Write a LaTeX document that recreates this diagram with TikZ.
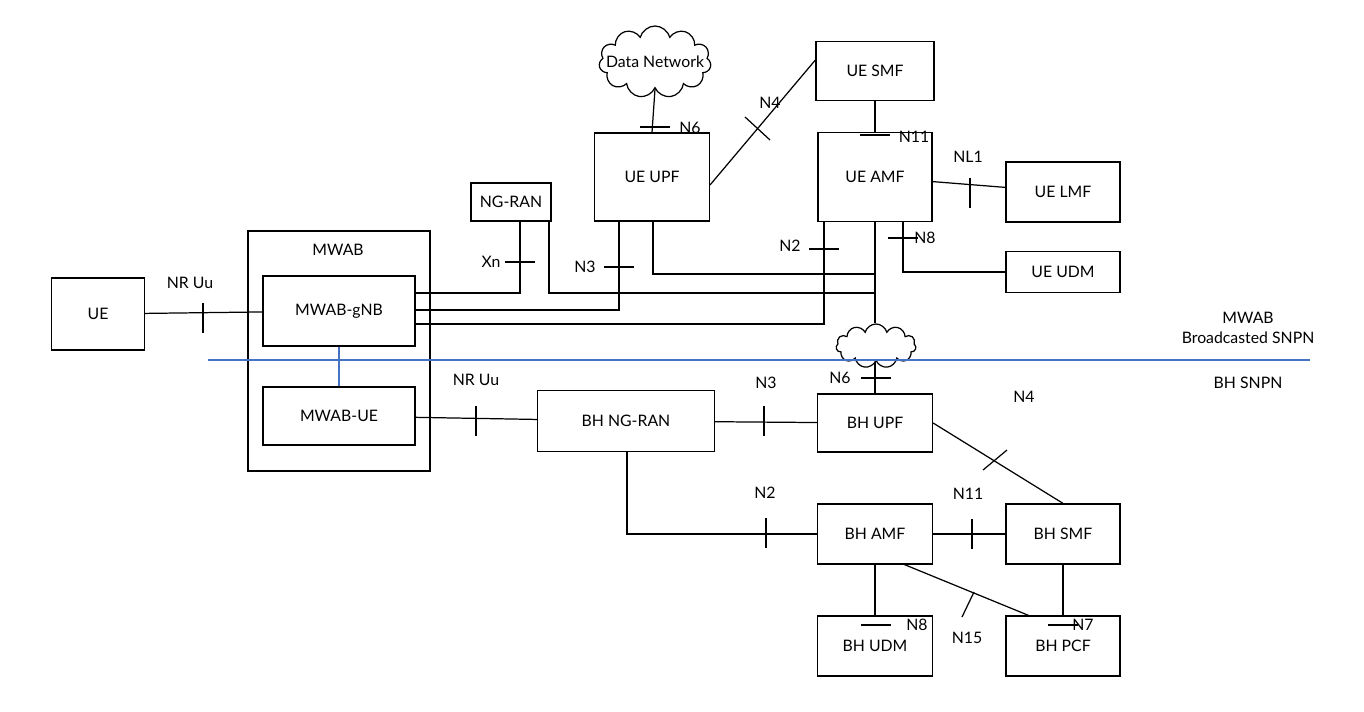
\documentclass[tikz,border=0pt]{standalone}
\usepackage{fontspec}
\setmainfont{Lato}
\usetikzlibrary{shapes.symbols, positioning}
\definecolor{SNPNBlue}{HTML}{4472C4}

\begin{document}
\begin{tikzpicture}[x=0.02cm, y=-0.02cm, font=\fontsize{9}{11}\selectfont, line width=0.7pt,
    nf/.style={rectangle, draw, inner sep=0pt, align=center},
    cl/.style={cloud, draw, cloud puffs=11, inner sep=0pt},
    tk/.style={line width=0.7pt}]
        \useasboundingbox (0,0) rectangle (1364,712);

        % boxes
        \node[nf, minimum width=93*0.02cm, minimum height=72*0.02cm] (UE) at (98,314) {UE};
        \node[nf, minimum width=182*0.02cm, minimum height=240*0.02cm] (MWAB) at (339,351) {};
        \node at (338,250) {MWAB};
        \node[nf, minimum width=152*0.02cm, minimum height=70*0.02cm] (gNB) at (339,311) {MWAB-gNB};
        \node[nf, minimum width=152*0.02cm, minimum height=58*0.02cm] (MUE) at (339,416) {MWAB-UE};
        \node[nf, minimum width=80*0.02cm, minimum height=38*0.02cm] (NGRAN) at (511,202) {NG-RAN};
        \node[nf, minimum width=115*0.02cm, minimum height=88*0.02cm] (UPF) at (652,177) {UE UPF};
        \node[cl, aspect=1.55, minimum width=112*0.02cm, minimum height=72*0.02cm] (DN) at (655,62) {};
        \node at (DN.center) {Data Network};
        \node[nf, minimum width=118*0.02cm, minimum height=59*0.02cm] (SMF) at (875,71) {UE SMF};
        \node[nf, minimum width=114*0.02cm, minimum height=89*0.02cm] (AMF) at (875,177) {UE AMF};
        \node[nf, minimum width=114*0.02cm, minimum height=60*0.02cm] (LMF) at (1063,192) {UE LMF};
        \node[nf, minimum width=114*0.02cm, minimum height=41*0.02cm] (UDM) at (1063,272) {UE UDM};
        \node[cl, aspect=1.8, minimum width=80*0.02cm, minimum height=44*0.02cm] (BB) at (876,346) {};
        \node[nf, minimum width=177*0.02cm, minimum height=61*0.02cm] (BHRAN) at (626,421) {BH NG-RAN};
        \node[nf, minimum width=115*0.02cm, minimum height=58*0.02cm] (BHUPF) at (875,423) {BH UPF};
        \node[nf, minimum width=115*0.02cm, minimum height=60*0.02cm] (BHAMF) at (875,534) {BH AMF};
        \node[nf, minimum width=114*0.02cm, minimum height=60*0.02cm] (BHSMF) at (1063,534) {BH SMF};
        \node[nf, minimum width=115*0.02cm, minimum height=60*0.02cm] (BHUDM) at (875,646) {BH UDM};
        \node[nf, minimum width=114*0.02cm, minimum height=60*0.02cm] (BHPCF) at (1063,646) {BH PCF};

        % domain line
        \coordinate (L) at (208,360);
        \coordinate (R) at (1310,360);
        \draw[SNPNBlue, line width=1pt] (L) -- (R);
        \draw[SNPNBlue, line width=1pt] (gNB) -- (MUE);
        \node[align=center] at (1248,328) {MWAB\\Broadcasted SNPN};
        \node at (1248,383) {BH SNPN};

        % UE side connectors
        \draw (UE) -- (gNB);
        \draw (gNB.east |- 0,293) -| (520,221);
        \draw (549,221) |- (875,293);
        \draw (gNB.east |- 0,310) -| (619,221);
        \draw (653,221) |- (875,274);
        \draw (gNB.east |- 0,324) -| (824,222);
        \draw (AMF.south) -- (AMF.south |- BB.north);
        \draw (903,222) |- (UDM.west);
        \draw (DN.south) -- (UPF.north);
        \draw (710,185) -- (SMF.south west |- 0,60);
        \draw (SMF) -- (AMF);
        \draw (AMF) -- (LMF);

        % BH side connectors
        \draw (MUE) -- (BHRAN);
        \draw (BHRAN) -- (BHUPF);
        \draw (BHUPF.north |- BB.south) -- (BHUPF.north);
        \draw (BHUPF.east) -- (BHSMF.north);
        \draw (627,452) |- (BHAMF.west);
        \draw (BHAMF) -- (BHSMF);
        \draw (BHAMF) -- (BHUDM);
        \draw (BHSMF) -- (BHPCF);
        \draw (903,564) -- (1030,616);

        % reference point ticks
        \foreach \x/\y in {203/318, 476/421, 764/421, 766/533, 972/534, 970/193}
            \draw[tk] (\x,\y-15) -- (\x,\y+15);
        \foreach \x/\y in {520/262, 655/127, 619/267, 824/249, 875/135, 903/238, 876/378, 876/625, 1063/625}
            \draw[tk] (\x-15,\y) -- (\x+15,\y);
        \draw[tk] (745,117) -- (770,140);
        \draw[tk] (983,470) -- (1007,450);
        \draw[tk] (962,617) -- (974,592);

        % labels
        \node at (190,283) {NR Uu};
        \node at (491,262) {Xn};
        \node at (585,267) {N3};
        \node at (790,246) {N2};
        \node at (925,238) {N8};
        \node at (690,128) {N6};
        \node at (770,103) {N4};
        \node at (914,137) {N11};
        \node at (968,157) {NL1};
        \node at (476,380) {NR Uu};
        \node at (766,383) {N3};
        \node at (840,378) {N6};
        \node at (1024,397) {N4};
        \node at (765,493) {N2};
        \node at (968,494) {N11};
        \node at (917,625) {N8};
        \node at (967,638) {N15};
        \node at (1083,625) {N7};
    \end{tikzpicture}
\end{document}
